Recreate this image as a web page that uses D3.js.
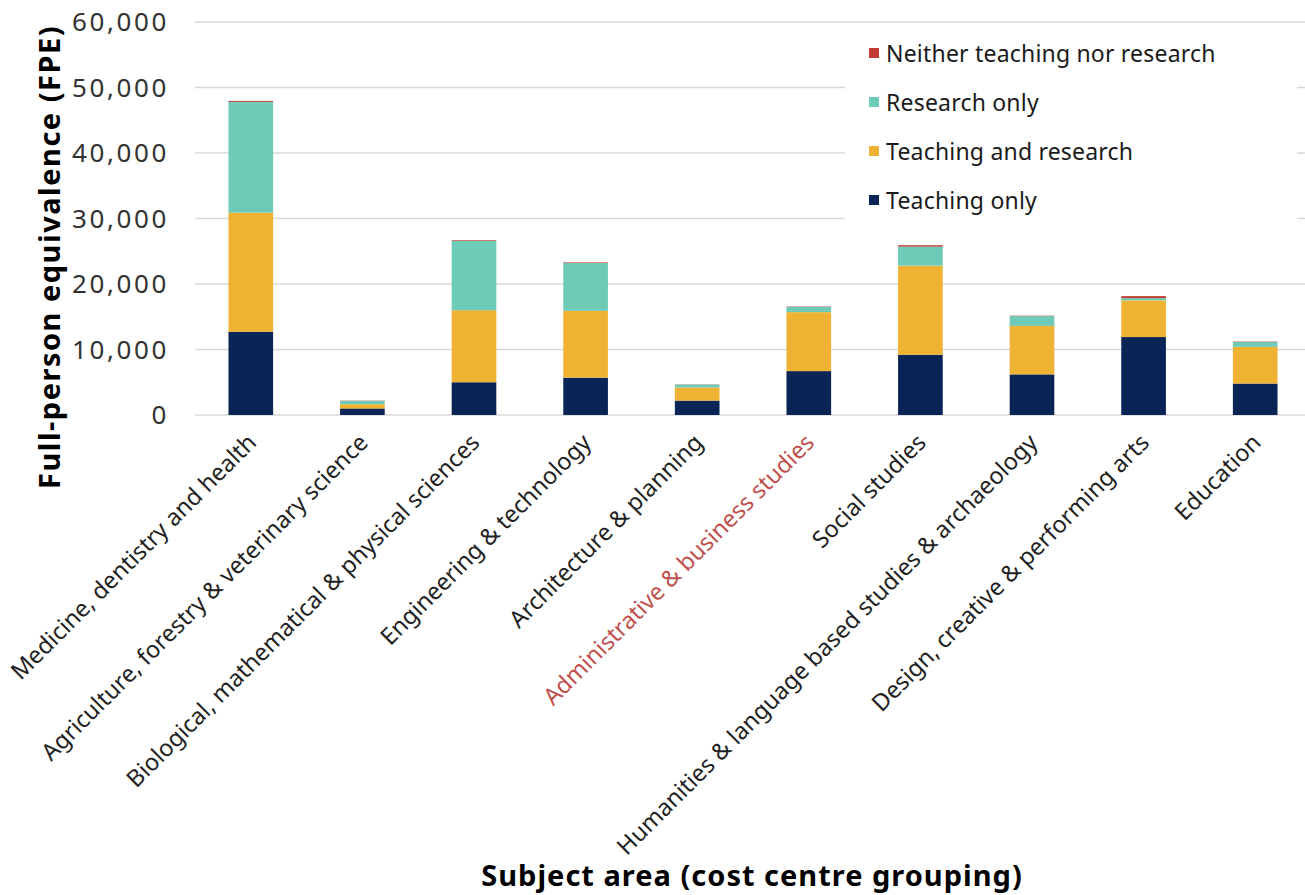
<!DOCTYPE html>
<html>
<head>
<meta charset="utf-8">
<script src="https://cdn.jsdelivr.net/npm/d3@7"></script>
<style>
  html, body { margin: 0; padding: 0; background: #fff; }
  svg { display: block; font-family: "Noto Sans", "Open Sans", sans-serif; }
</style>
</head>
<body>
<svg id="chart" width="1305" height="895"></svg>
<script>
const categories = [
  "Medicine, dentistry and health",
  "Agriculture, forestry & veterinary science",
  "Biological, mathematical & physical sciences",
  "Engineering & technology",
  "Architecture & planning",
  "Administrative & business studies",
  "Social studies",
  "Humanities & language based studies & archaeology",
  "Design, creative & performing arts",
  "Education"
];
const seriesNames = ["Teaching only", "Teaching and research", "Research only", "Neither teaching nor research"];
const teachingOnly        = [12700, 1000, 5000, 5700, 2200, 6700, 9200, 6200, 11900, 4800];
const teachingAndResearch = [18200,  650, 11000, 10200, 2000, 9000, 13600, 7400, 5600, 5600];
const researchOnly        = [16900,  500, 10600, 7300,  450,  800, 2900, 1500,  350,  750];
const neither             = [  150,   40,   100,  100,   30,   60,  220,   60,  300,   60];
const yTicks = [0, 10000, 20000, 30000, 40000, 50000, 60000];
const highlighted = "Administrative & business studies";
const colors = ["#0a2455", "#f0b232", "#6dcbb7", "#c23b33"];

const rows = categories.map((c, i) => ({
  cat: c,
  "Teaching only": teachingOnly[i],
  "Teaching and research": teachingAndResearch[i],
  "Research only": researchOnly[i],
  "Neither teaching nor research": neither[i]
}));

const svg = d3.select("#chart");
const x = d3.scaleBand().domain(categories).range([195, 1311]).paddingInner(0.6).paddingOuter(0.3);
const y = d3.scaleLinear().domain([0, 60000]).range([415, 22]);
const color = d3.scaleOrdinal().domain(seriesNames).range(colors);

// gridlines
svg.append("g").selectAll("line").data(yTicks).join("line")
  .attr("x1", 195).attr("x2", 1305)
  .attr("y1", d => y(d)).attr("y2", d => y(d))
  .attr("stroke", "#d9d9d9").attr("stroke-width", 1.3);

// y tick labels
svg.append("g").selectAll("text").data(yTicks).join("text")
  .attr("x", 169).attr("y", d => y(d)).attr("dy", "0.36em")
  .attr("text-anchor", "end")
  .attr("font-size", 26).attr("fill", "#333")
  .attr("letter-spacing", 2.6)
  .text(d => d3.format(",")(d));

// stacked bars
const stack = d3.stack().keys(seriesNames)(rows);
svg.append("g").selectAll("g").data(stack).join("g")
  .attr("fill", d => color(d.key))
  .selectAll("rect").data(d => d).join("rect")
  .attr("x", d => x(d.data.cat))
  .attr("width", x.bandwidth())
  .attr("y", d => y(d[1]))
  .attr("height", d => y(d[0]) - y(d[1]));

// category labels
svg.append("g").selectAll("text").data(categories).join("text")
  .attr("transform", d => `translate(${x(d) + x.bandwidth() / 2 + 7},444) rotate(-45)`)
  .attr("text-anchor", "end")
  .attr("font-size", 23.5)
  .attr("fill", d => d === highlighted ? "#c0504d" : "#222")
  .text(d => d);

// legend
const legend = svg.append("g");
legend.append("rect").attr("x", 845).attr("y", 30).attr("width", 452).attr("height", 198).attr("fill", "#fff");
const legendOrder = seriesNames.slice().reverse();
const li = legend.selectAll("g").data(legendOrder).join("g")
  .attr("transform", (d, i) => `translate(869,${62 + i * 49})`);
li.append("rect").attr("x", 0).attr("y", -14).attr("width", 10).attr("height", 10).attr("fill", d => color(d));
li.append("text").attr("x", 17).attr("y", 0).attr("font-size", 23).attr("fill", "#1a1a1a")
  .attr("letter-spacing", 0.2).text(d => d);

// axis titles
svg.append("text")
  .attr("transform", "translate(60,257) rotate(-90)")
  .attr("text-anchor", "middle").attr("font-weight", "bold").attr("font-size", 29).attr("fill", "#000")
  .attr("letter-spacing", 1.5)
  .text("Full-person equivalence (FPE)");
svg.append("text")
  .attr("x", 752).attr("y", 886)
  .attr("text-anchor", "middle").attr("font-weight", "bold").attr("font-size", 29).attr("fill", "#000")
  .attr("letter-spacing", 1)
  .text("Subject area (cost centre grouping)");
</script>
</body>
</html>
